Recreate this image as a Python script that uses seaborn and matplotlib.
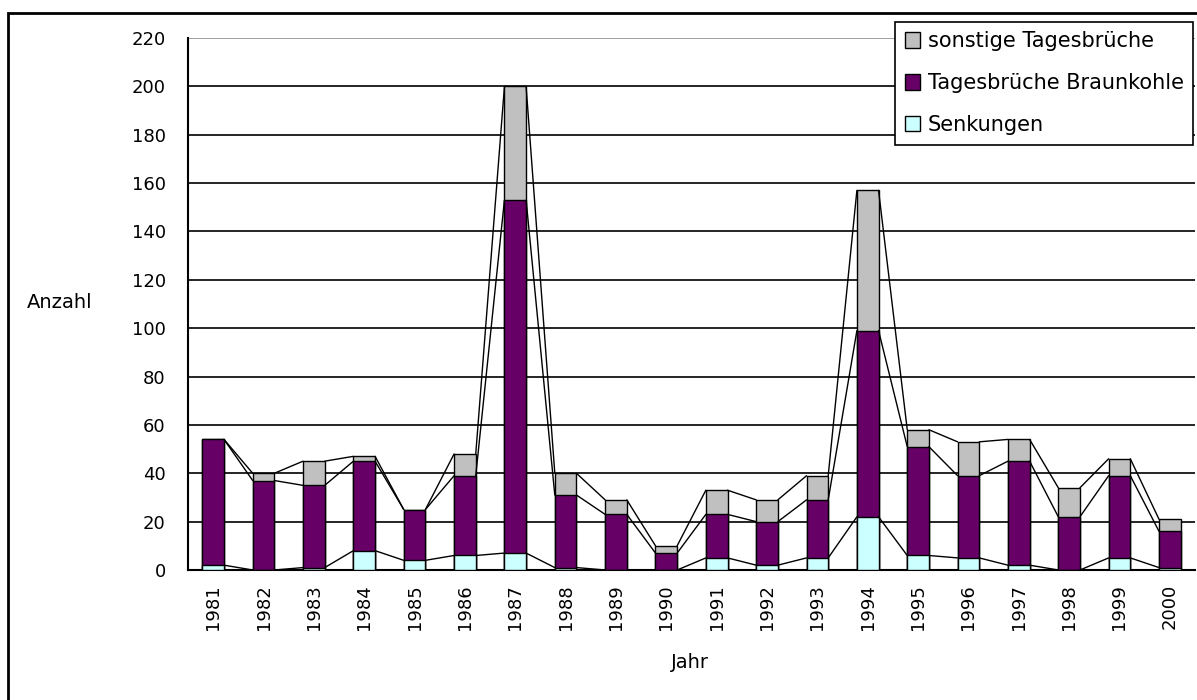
import numpy as np
import pandas as pd
import seaborn as sns
import matplotlib.pyplot as plt
from matplotlib.patches import Rectangle

# Values
jahre = [str(y) for y in range(1981, 2001)]
senkungen = [2, 0, 1, 8, 4, 6, 7, 1, 0, 0, 5, 2, 5, 22, 6, 5, 2, 0, 5, 1]
braunkohle = [52, 37, 34, 37, 21, 33, 146, 30, 23, 7, 18, 18, 24, 77, 45, 34, 43, 22, 34, 15]
sonstige = [0, 3, 10, 2, 0, 9, 47, 9, 6, 3, 10, 9, 10, 58, 7, 14, 9, 12, 7, 5]

df = pd.DataFrame({"Jahr": jahre, "Senkungen": senkungen,
                   "Braunkohle": braunkohle, "sonstige": sonstige})
df["c1"] = df["Senkungen"]
df["c2"] = df["c1"] + df["Braunkohle"]
df["c3"] = df["c2"] + df["sonstige"]

sns.set_style("white")
plt.rcParams["font.family"] = ["DejaVu Sans"]
plt.rcParams["text.color"] = "black"
plt.rcParams["xtick.color"] = "black"
plt.rcParams["ytick.color"] = "black"

fig = plt.figure(figsize=(11.97, 7), dpi=100)
ax = fig.add_axes([188 / 1197, 130 / 700, 1007 / 1197, 532 / 700])

w = 0.43
colors = {"c3": "#C0C0C0", "c2": "#660066", "c1": "#CCFFFF"}
labels = {"c3": "sonstige Tagesbrüche", "c2": "Tagesbrüche Braunkohle", "c1": "Senkungen"}
for col in ["c3", "c2", "c1"]:
    sns.barplot(data=df, x="Jahr", y=col, color=colors[col], saturation=1,
                edgecolor="black", linewidth=1.0, width=w, ax=ax,
                label=labels[col], zorder=3)

# Excel-style series lines between stacked segment tops
x = np.arange(len(jahre))
for col in ["c1", "c2", "c3"]:
    v = df[col].to_numpy()
    for i in range(len(v) - 1):
        ax.plot([x[i] + w / 2, x[i + 1] - w / 2], [v[i], v[i + 1]],
                color="black", lw=1.0, zorder=4)

ax.set_xlim(-0.5, len(jahre) - 0.5)
ax.set_ylim(0, 220)
ax.set_yticks(range(0, 221, 20))
ax.yaxis.grid(True, color="black", lw=1.2, zorder=0)
ax.get_ygridlines()[-1].set_color("#909090")
ax.set_axisbelow(True)

for s in ["top", "right"]:
    ax.spines[s].set_visible(False)
for s in ["left", "bottom"]:
    ax.spines[s].set_color("black")
    ax.spines[s].set_linewidth(1.5)

ax.tick_params(axis="y", direction="inout", length=12, width=1.2, labelsize=13, pad=10)
ax.set_xticks(x)
ax.set_xticklabels(jahre, rotation=90, fontsize=13)
ax.tick_params(axis="x", length=0, pad=10)
# tick marks between categories
ax.set_xticks(np.arange(-0.5, len(jahre)), minor=True)
ax.tick_params(axis="x", which="minor", direction="out", length=7, width=1.2)

ax.set_xlabel("")
ax.set_ylabel("")
fig.text(60 / 1197, 1 - 303 / 700, "Anzahl", fontsize=14, ha="center", va="center")
fig.text(690 / 1197, 1 - 662 / 700, "Jahr", fontsize=14, ha="center", va="center")

handles, lbls = ax.get_legend_handles_labels()
leg = ax.legend(handles, lbls, loc="upper right",
                bbox_to_anchor=(1193 / 1197, 1 - 22 / 700),
                bbox_transform=fig.transFigure, fontsize=15, frameon=True,
                fancybox=False, edgecolor="black", framealpha=1,
                handlelength=0.75, handleheight=0.75, handletextpad=0.35,
                labelspacing=1.05, borderpad=0.45, borderaxespad=0)
leg.get_frame().set_linewidth(1.2)
leg.set_zorder(10)

fig.patches.append(Rectangle((8 / 1197, -0.1), 1.2, 0.1 + 1 - 13 / 700,
                             transform=fig.transFigure, fill=False,
                             edgecolor="black", lw=2))

fig.savefig("out.png", dpi=100)
